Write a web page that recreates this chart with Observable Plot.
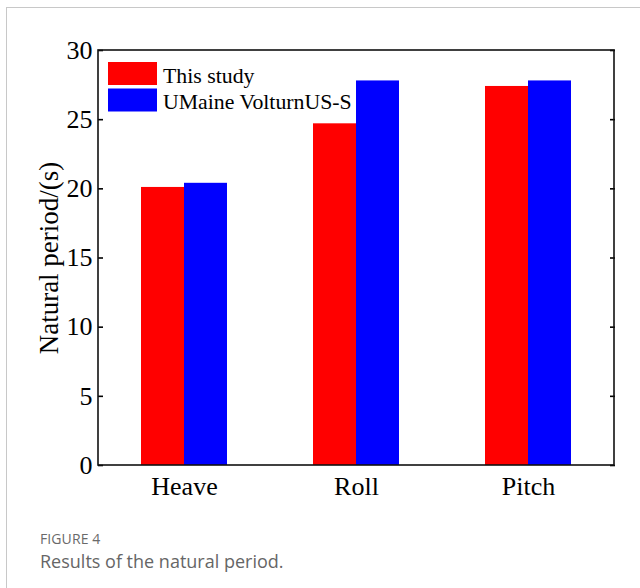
<!DOCTYPE html>
<html>
<head>
<meta charset="utf-8">
<script src="https://cdn.jsdelivr.net/npm/d3@7"></script>
<script src="https://cdn.jsdelivr.net/npm/@observablehq/plot@0.6"></script>
<style>
  html, body { margin: 0; padding: 0; background: #fff; }
  #page { position: relative; width: 640px; height: 588px; overflow: hidden; }
  #sheet { position: absolute; left: 6px; top: 7px; right: -10px; bottom: -10px;
           border-left: 1.5px solid #c8c8c8; border-top: 1.5px solid #c8c8c8; }
  #chart { position: absolute; left: 0; top: 0; }
  #caption { position: absolute; left: 40px; top: 529px; font-family: "Open Sans", sans-serif; }
  #caption .num { font-size: 14px; color: #6a6a6a; letter-spacing: 0.1px; line-height: 20px; }
  #caption .txt { font-size: 18px; color: #666; line-height: 24px; }
</style>
</head>
<body>
<div id="page">
  <div id="sheet"></div>
  <div id="chart"></div>
  <div id="caption">
    <div class="num">FIGURE 4</div>
    <div class="txt">Results of the natural period.</div>
  </div>
</div>
<script>
// Natural periods (s) per degree of freedom
const categories = ["Heave", "Roll", "Pitch"];
const series = ["This study", "UMaine VolturnUS-S"];
const thisStudy = [20.1, 24.7, 27.4];
const umaine = [20.4, 27.8, 27.8];
const yTicks = [0, 5, 10, 15, 20, 25, 30];
const colors = ["#ff0000", "#0000ff"];

const rows = categories.flatMap((c, i) => [
  {category: c, series: series[0], value: thisStudy[i]},
  {category: c, series: series[1], value: umaine[i]}
]);

const serif = "'Liberation Serif', 'Times New Roman', serif";
const W = 640, H = 500, mL = 98, mR = 26, mT = 50, mB = 35;

const plot = Plot.plot({
  width: W,
  height: H,
  marginLeft: mL,
  marginRight: mR,
  marginTop: mT,
  marginBottom: mB,
  style: {fontFamily: serif, fontSize: "26px", color: "#000", background: "transparent", overflow: "visible"},
  fx: {domain: categories, padding: 0, label: null},
  x: {domain: series, paddingInner: 0, paddingOuter: 1, axis: null},
  y: {domain: [0, 30], label: null},
  color: {domain: series, range: colors},
  marks: [
    Plot.barY(rows, {fx: "category", x: "series", y: "value", fill: "series"}),
    Plot.axisY({anchor: "left", ticks: yTicks, tickSize: -5, tickPadding: 11, strokeWidth: 1.6,
      label: "Natural period/(s)", labelAnchor: "center", labelArrow: "none", labelOffset: 60,
      fontSize: 26}),
    Plot.axisY({anchor: "right", ticks: yTicks, tickSize: -5, tickFormat: () => "", strokeWidth: 1.6,
      label: null}),
    Plot.axisFx({anchor: "bottom", tickSize: 0, tickPadding: 11, label: null, fontSize: 26})
  ]
});

const svg = d3.select(plot);

// Axis title a touch larger than the tick labels
svg.selectAll("[aria-label='y-axis label'] text").attr("font-size", "27px");

// Closed box around the plot area
svg.append("rect")
  .attr("x", mL).attr("y", mT)
  .attr("width", W - mL - mR).attr("height", H - mT - mB)
  .attr("fill", "none").attr("stroke", "#111").attr("stroke-width", 1.6);

// In-frame legend at the upper left of the plot area
const color = plot.scale("color");
const legend = svg.append("g").attr("transform", `translate(${mL + 10},${mT + 12})`)
  .attr("text-anchor", "start");
series.forEach((s, i) => {
  const g = legend.append("g").attr("transform", `translate(0,${i * 26.5})`);
  g.append("rect").attr("width", 49).attr("height", 23).attr("fill", color.apply(s));
  g.append("text").attr("x", 55).attr("y", 20.5).attr("text-anchor", "start")
    .attr("font-family", serif).attr("font-size", "21.8px").attr("fill", "#000").text(s);
});

document.getElementById("chart").appendChild(plot);
</script>
</body>
</html>
